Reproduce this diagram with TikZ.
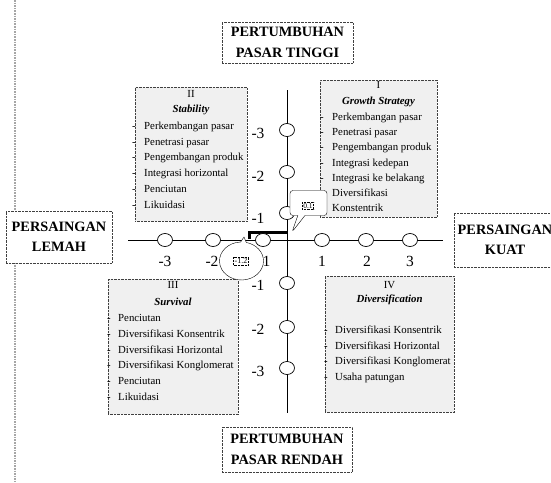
\documentclass[tikz,border=0pt]{standalone}
\usepackage{fontspec}
\setmainfont{Liberation Serif}
\usetikzlibrary{shapes.geometric,shapes.callouts}
\begin{document}
\begin{tikzpicture}[x=1pt,y=-1pt,
  qbox/.style={draw=black!75, densely dotted, fill=black!6, inner sep=0, anchor=north west},
  lbox/.style={draw=black!75, densely dotted, fill=white, inner sep=0, align=center, font=\fontsize{14.3}{20.5}\selectfont\bfseries},
  itm/.style={anchor=base west, inner sep=0, font=\fontsize{10.8}{13}\selectfont},
  hd/.style={anchor=base, inner sep=0, font=\fontsize{10.8}{13}\selectfont},
  mk/.style={ellipse, draw, fill=white, minimum width=15pt, minimum height=13pt, inner sep=0, line width=0.7pt},
  num/.style={inner sep=0, font=\fontsize{15.5}{17}\selectfont},
  axisline/.style={line width=1pt},
  tag/.style={draw, densely dotted, inner sep=1pt}]
\useasboundingbox (0,0) rectangle (551,482);

% left dotted guide line
\coordinate (lt) at (15,0);
\coordinate (lb) at (15,482);
\draw[black!35, densely dotted, line width=1.6pt] (lt) -- (lb);

% quadrant boxes
\node[qbox, minimum width=112pt, minimum height=134pt] (q2) at (135,87) {};
\node[qbox, minimum width=117pt, minimum height=137pt] (q1) at (320,80) {};
\node[qbox, minimum width=130pt, minimum height=135pt] (q3) at (108,279) {};
\node[qbox, minimum width=129pt, minimum height=136pt] (q4) at (325,276) {};

% Quadrant II
\node[hd] (q2h) at (191,97.5) {II};
\node[hd] (q2s) at (191,112.5) {\textbf{\textit{Stability}}};
\foreach \t [count=\i] in {Perkembangan pasar, Penetrasi pasar, Pengembangan produk, Integrasi horizontal, Penciutan, Likuidasi} {
  \node[itm] (q2d\i) at (132,{129.5+15.7*(\i-1)}) {-};
  \node[itm] (q2t\i) at (144,{129.5+15.7*(\i-1)}) {\t};
}

% Quadrant I
\node[hd] (q1h) at (378.5,88.5) {I};
\node[hd] (q1s) at (378.5,104.5) {\textbf{\textit{Growth Strategy}}};
\foreach \t [count=\i] in {Perkembangan pasar, Penetrasi pasar, Pengembangan produk, Integrasi kedepan, Integrasi ke belakang, Diversifikasi} {
  \node[itm] (q1d\i) at (320,{120.5+15.2*(\i-1)}) {-};
  \node[itm] (q1t\i) at (332,{120.5+15.2*(\i-1)}) {\t};
}
\node[itm] (q1t7) at (332,211) {Konstentrik};

% Quadrant III
\node[hd] (q3h) at (173,288.5) {III};
\node[hd] (q3s) at (173,305.5) {\textbf{\textit{Survival}}};
\foreach \t [count=\i] in {Penciutan, Diversifikasi Konsentrik, Diversifikasi Horizontal, Diversifikasi Konglomerat, Penciutan, Likuidasi} {
  \node[itm] (q3d\i) at (107,{321.5+15.8*(\i-1)}) {-};
  \node[itm] (q3t\i) at (118,{321.5+15.8*(\i-1)}) {\t};
}

% Quadrant IV
\node[hd] (q4h) at (389.5,288.5) {IV};
\node[hd] (q4s) at (389.5,302.5) {\textbf{\textit{Diversification}}};
\foreach \t [count=\i] in {Diversifikasi Konsentrik, Diversifikasi Horizontal, Diversifikasi Konglomerat, Usaha patungan} {
  \node[itm] (q4d\i) at (324,{333.5+15.5*(\i-1)}) {-};
  \node[itm] (q4t\i) at (335,{333.5+15.5*(\i-1)}) {\t};
}

% axes
\coordinate (hl) at (128,240);
\coordinate (hr) at (443,240);
\coordinate (vt) at (287,90);
\coordinate (vb) at (287,413);
\draw[axisline] (hl) -- (hr);
\draw[axisline] (vt) -- (vb);

% thick bracket
\coordinate (b1) at (249,239);
\coordinate (b2) at (249,232.5);
\coordinate (b3) at (288,232.5);
\draw[line width=3pt] (b1) -- (b2) -- (b3);

% markers
\foreach \x/\n in {165/m3,213/m2,263/m1,322/p1,366/p2,410/p3}
  \node[mk] (h\n) at (\x,240) {};
\foreach \y/\n in {130/p3,172/p2,213/p1,283/m1,327/m2,368/m3}
  \node[mk] (v\n) at (287,\y) {};

% axis numbers
\foreach \x/\t/\n in {165/-3/m3,212/-2/m2,264/-1/m1,322/1/p1,367/2/p2,410/3/p3}
  \node[num] (nh\n) at (\x,261) {\t};
\foreach \y/\t/\n in {133/-3/p3,176/-2/p2,218/-1/p1,285/-1/m1,329/-2/m2,371/-3/m3}
  \node[num] (nv\n) at (258,\y) {\t};

% callouts
\coordinate (tipA) at (292,232);
\node[rectangle callout, draw, fill=white, rounded corners=3pt, minimum width=37pt, minimum height=25pt, inner sep=0, callout absolute pointer={(tipA)}] (cA) at (308.5,203) {};
\node[tag, font=\fontsize{7.5}{8}\selectfont] (cAt) at (308,206) {0.1};

\coordinate (tipB) at (244,237);
\node[ellipse callout, draw, fill=white, minimum width=44pt, minimum height=38pt, inner sep=0, callout absolute pointer={(tipB)}] (cB) at (241.5,261) {};
\node[tag, font=\fontsize{8}{9}\selectfont] (cBt) at (241,261) {-1.2};

% label boxes
\node[lbox, minimum width=131pt, minimum height=41pt] (top) at (287.5,42.5) {PERTUMBUHAN\\PASAR TINGGI};
\node[lbox, minimum width=106pt, minimum height=52pt] (left) at (59,237) {PERSAINGAN\\LEMAH};
\node[lbox, minimum width=102pt, minimum height=54pt] (right) at (505,240) {PERSAINGAN\\KUAT};
\node[lbox, minimum width=130pt, minimum height=45pt] (bot) at (287,449.5) {PERTUMBUHAN\\PASAR RENDAH};
\end{tikzpicture}
\end{document}
